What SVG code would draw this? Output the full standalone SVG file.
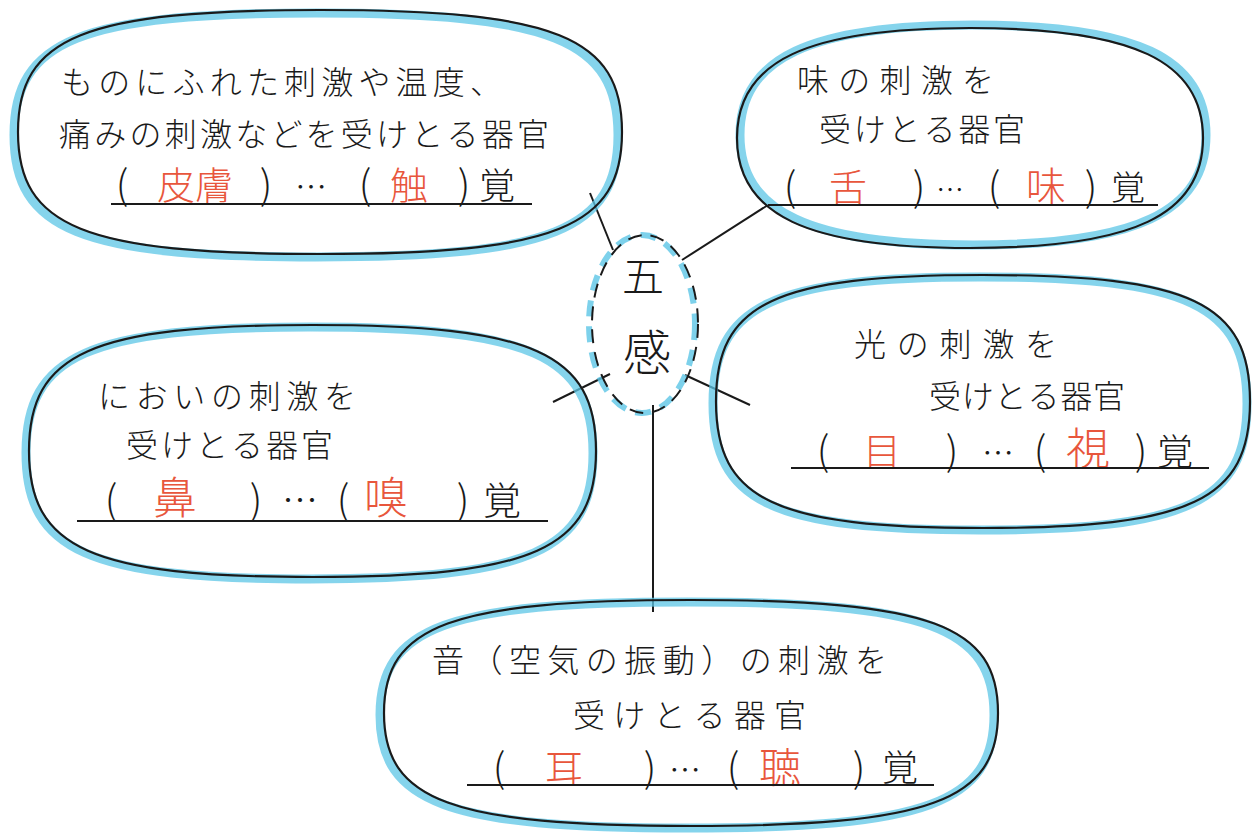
<svg xmlns="http://www.w3.org/2000/svg" width="1257" height="834" viewBox="0 0 1257 834">
<style>
.blue{fill:none;stroke:#5cc6e6;stroke-width:9;stroke-linejoin:round;opacity:0.75}
.ink{fill:none;stroke:#1a1a1a;stroke-width:2.2}
.t{font-family:"Noto Sans CJK JP","Noto Sans CJK SC",sans-serif;fill:#1a1a1a;font-size:32px;font-weight:300}
.m{text-anchor:middle}
.p{font-size:40px}
.k{font-size:36px}
.r{fill:#e8563c}
.ul{stroke:#1a1a1a;stroke-width:2}
.con{stroke:#1a1a1a;stroke-width:2;fill:none}
</style>
<rect width="1257" height="834" fill="#ffffff"/>
<g id="connectors">
<line class="con" x1="590" y1="193" x2="613" y2="250"/>
<line class="con" x1="682" y1="260" x2="768" y2="205"/>
<line class="con" x1="610" y1="374" x2="553" y2="402"/>
<line class="con" x1="685" y1="375" x2="750" y2="405"/>
<line class="con" x1="653" y1="405" x2="653" y2="612"/>
</g>
<g id="center">
<ellipse cx="642" cy="324" rx="53" ry="89" fill="none" stroke="#5cc6e6" stroke-width="6" stroke-dasharray="16 10" opacity="0.8"/>
<ellipse cx="645" cy="324" rx="53" ry="89" fill="none" stroke="#1a1a1a" stroke-width="2" stroke-dasharray="14 9"/>
<text class="t m" x="643" y="292" style="font-size:42px">五</text>
<text class="t m" x="647" y="370" style="font-size:48px">感</text>
</g>
<g id="touch">
<path class="blue" transform="translate(-4,3)" d="M 18,132 C 18,36.8 84.4,10 320,10 C 555.6,10 622,36.8 622,132 C 622,227.2 555.6,254 320,254 C 84.4,254 18,227.2 18,132 Z"/>
<path class="ink" d="M 18,132 C 18,36.8 84.4,10 320,10 C 555.6,10 622,36.8 622,132 C 622,227.2 555.6,254 320,254 C 84.4,254 18,227.2 18,132 Z"/>
<text class="t" x="61" y="94" textLength="441" lengthAdjust="spacing">ものにふれた刺激や温度、</text>
<text class="t" x="59" y="146" textLength="490" lengthAdjust="spacing">痛みの刺激などを受けとる器官</text>
<text class="t m p" x="122" y="199">(</text>
<text class="t m r" x="195" y="199" style="font-size:38px">皮膚</text>
<text class="t m p" x="266" y="199">)</text>
<text class="t m" x="311" y="199">…</text>
<text class="t m p" x="365" y="199">(</text>
<text class="t m r" x="409" y="199" style="font-size:38px">触</text>
<text class="t m p" x="464" y="199">)</text>
<text class="t m k" x="497" y="199">覚</text>
<line class="ul" x1="111" y1="204" x2="532" y2="204"/>
</g>
<g id="taste">
<path class="blue" transform="translate(3,-3)" d="M 737,138 C 737,61 807,28 970,28 C 1133,28 1203,61 1203,138 C 1203,215 1133,248 970,248 C 807,248 737,215 737,138 Z"/>
<path class="ink" d="M 737,138 C 737,61 807,28 970,28 C 1133,28 1203,61 1203,138 C 1203,215 1133,248 970,248 C 807,248 737,215 737,138 Z"/>
<text class="t" x="797" y="92" textLength="197" lengthAdjust="spacing">味の刺激を</text>
<text class="t" x="819" y="141" textLength="206" lengthAdjust="spacing">受けとる器官</text>
<text class="t m p" x="790" y="201">(</text>
<text class="t m r" x="848" y="201" style="font-size:38px">舌</text>
<text class="t m p" x="919" y="201">)</text>
<text class="t m" x="950" y="201" style="font-size:28px">…</text>
<text class="t m p" x="994" y="201">(</text>
<text class="t m r" x="1046" y="201" style="font-size:40px">味</text>
<text class="t m p" x="1091" y="201">)</text>
<text class="t m" x="1128" y="200" style="font-size:34px">覚</text>
<line class="ul" x1="768" y1="205" x2="1158" y2="205"/>
</g>
<g id="sight">
<path class="blue" transform="translate(-3,2)" d="M 716,401.5 C 716,302.8 775,275 983,275 C 1191,275 1250,302.8 1250,401.5 C 1250,500.2 1191,528 983,528 C 775,528 716,500.2 716,401.5 Z"/>
<path class="ink" d="M 716,401.5 C 716,302.8 775,275 983,275 C 1191,275 1250,302.8 1250,401.5 C 1250,500.2 1191,528 983,528 C 775,528 716,500.2 716,401.5 Z"/>
<text class="t" x="854" y="356" textLength="203" lengthAdjust="spacing">光の刺激を</text>
<text class="t" x="929" y="408" textLength="196" lengthAdjust="spacing">受けとる器官</text>
<text class="t m p" x="823" y="465">(</text>
<text class="t m r" x="882" y="465" style="font-size:38px">目</text>
<text class="t m p" x="952" y="465">)</text>
<text class="t m" x="998" y="465">…</text>
<text class="t m p" x="1040" y="465">(</text>
<text class="t m r" x="1088" y="465" style="font-size:44px">視</text>
<text class="t m p" x="1141" y="465">)</text>
<text class="t m k" x="1175" y="465">覚</text>
<line class="ul" x1="791" y1="468" x2="1209" y2="468"/>
</g>
<g id="smell">
<path class="blue" transform="translate(-3,2)" d="M 29,451 C 29,353 91.5,325 312.5,325 C 533.5,325 596,353 596,451 C 596,549 533.5,577 312.5,577 C 91.5,577 29,549 29,451 Z"/>
<path class="ink" d="M 29,451 C 29,353 91.5,325 312.5,325 C 533.5,325 596,353 596,451 C 596,549 533.5,577 312.5,577 C 91.5,577 29,549 29,451 Z"/>
<text class="t" x="98" y="408" textLength="258" lengthAdjust="spacing">においの刺激を</text>
<text class="t" x="126" y="457" textLength="207" lengthAdjust="spacing">受けとる器官</text>
<text class="t m p" x="111" y="514">(</text>
<text class="t m r" x="175" y="514" style="font-size:44px">鼻</text>
<text class="t m p" x="256" y="514">)</text>
<text class="t m" x="300" y="514" style="font-size:36px">…</text>
<text class="t m p" x="343" y="514">(</text>
<text class="t m r" x="386" y="514" style="font-size:44px">嗅</text>
<text class="t m p" x="463" y="514">)</text>
<text class="t m" x="502" y="514" style="font-size:38px">覚</text>
<line class="ul" x1="77" y1="521" x2="548" y2="521"/>
</g>
<g id="hearing">
<path class="blue" transform="translate(-4,2)" d="M 384,713 C 384,625 451.5,600 691,600 C 930.5,600 998,625 998,713 C 998,801 930.5,826 691,826 C 451.5,826 384,801 384,713 Z"/>
<path class="ink" d="M 384,713 C 384,625 451.5,600 691,600 C 930.5,600 998,625 998,713 C 998,801 930.5,826 691,826 C 451.5,826 384,801 384,713 Z"/>
<text class="t" x="432" y="672" textLength="455" lengthAdjust="spacing">音（空気の振動）の刺激を</text>
<text class="t" x="573" y="727" textLength="233" lengthAdjust="spacing">受けとる器官</text>
<text class="t m p" x="499" y="782">(</text>
<text class="t m r" x="564" y="782" style="font-size:38px">耳</text>
<text class="t m p" x="650" y="782">)</text>
<text class="t m" x="685" y="782">…</text>
<text class="t m p" x="733" y="782">(</text>
<text class="t m r" x="780" y="783" style="font-size:42px">聴</text>
<text class="t m p" x="859" y="782">)</text>
<text class="t m k" x="900" y="781">覚</text>
<line class="ul" x1="467" y1="785" x2="934" y2="785"/>
</g>
</svg>
